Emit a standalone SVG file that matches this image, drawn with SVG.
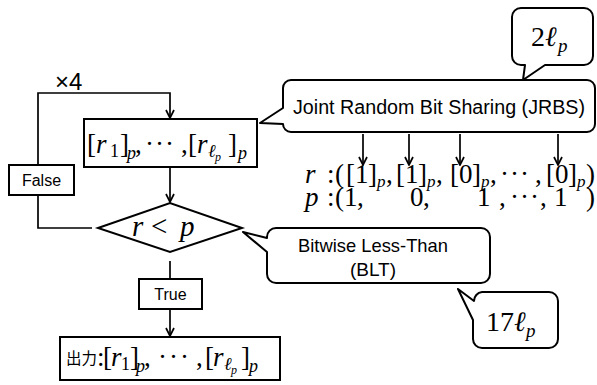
<svg xmlns="http://www.w3.org/2000/svg" width="597" height="385" viewBox="0 0 597 385">
<style>
.box{fill:#fff;stroke:#000;stroke-width:2}
.co{fill:#fff;stroke:#000;stroke-width:2;stroke-linejoin:round}
.ln{fill:none;stroke:#000;stroke-width:1.7}
.t{font-family:"Liberation Sans",Arial,sans-serif;font-size:19px;fill:#000}
.m{font-family:"Liberation Serif","DejaVu Serif",serif;fill:#000}
.i{font-style:italic}
.cjk{font-family:"Noto Sans CJK JP","Noto Sans CJK SC",sans-serif;font-size:15.5px;font-style:normal}
</style>
<defs>
<marker id="ah" viewBox="0 0 10 10" refX="9.5" refY="5" markerWidth="10" markerHeight="10" orient="auto" markerUnits="userSpaceOnUse">
<path d="M1.5,1 L9.5,5 L1.5,9" fill="none" stroke="#000" stroke-width="1.7"/>
</marker>
</defs>

<g id="connectors">
<path class="ln" d="M38,165 V93 H170 V118" marker-end="url(#ah)"/>
<path class="ln" d="M38,195 V228 H92"/>
<path class="ln" d="M170,167 V202" marker-end="url(#ah)"/>
<path class="ln" d="M170,261 V279"/>
<path class="ln" d="M170,309 V336" marker-end="url(#ah)"/>
<path class="ln" d="M363,134 V165" marker-end="url(#ah)"/>
<path class="ln" d="M409,134 V165" marker-end="url(#ah)"/>
<path class="ln" d="M460,134 V165" marker-end="url(#ah)"/>
<path class="ln" d="M558,134 V165" marker-end="url(#ah)"/>
</g>

<g id="loop-label">
<text class="t" x="55" y="90" style="font-size:24px">×4</text>
</g>

<g id="shares">
<rect class="box" x="84" y="119" width="173" height="48"/>
<text class="m" font-size="27"><tspan x="87" y="153">[</tspan><tspan x="96" y="153" class="i">r</tspan><tspan x="110" y="157" font-size="18">1</tspan><tspan x="120" y="153">]</tspan><tspan x="127" y="159" font-size="18" class="i">p</tspan><tspan x="135" y="153">,</tspan><tspan x="145" y="153">·</tspan><tspan x="155" y="153">·</tspan><tspan x="165" y="153">·</tspan><tspan x="181" y="153">,</tspan><tspan x="188" y="153">[</tspan><tspan x="197" y="153" class="i">r</tspan><tspan x="208" y="157" font-size="18" class="i">ℓ</tspan><tspan x="215" y="161" font-size="12" class="i">p</tspan><tspan x="228" y="153">]</tspan><tspan x="238" y="159" font-size="18" class="i">p</tspan></text>
</g>

<g id="false-label">
<rect class="box" x="9" y="165" width="65" height="30"/>
<text class="t" x="41.5" y="186" text-anchor="middle" style="font-size:16px">False</text>
</g>

<g id="decision">
<polygon class="box" points="98,228 170,203 242,228 170,252"/>
<text class="m" font-size="29"><tspan x="132" y="236" class="i">r</tspan><tspan x="151" y="236">&lt;</tspan><tspan x="180" y="236" class="i">p</tspan></text>
</g>

<g id="true-label">
<rect class="box" x="139" y="279" width="63" height="30"/>
<text class="t" x="170.5" y="300" text-anchor="middle" style="font-size:16px">True</text>
</g>

<g id="output">
<rect class="box" x="60" y="337" width="220" height="43"/>
<text class="m" font-size="27"><tspan x="66" y="364" class="cjk">出力</tspan><tspan x="97" y="366">:</tspan><tspan x="103" y="366">[</tspan><tspan x="111" y="366" class="i">r</tspan><tspan x="121" y="370" font-size="18">1</tspan><tspan x="130" y="366">]</tspan><tspan x="136" y="372" font-size="18" class="i">p</tspan><tspan x="144" y="366">,</tspan><tspan x="158" y="366">·</tspan><tspan x="169" y="366">·</tspan><tspan x="180" y="366">·</tspan><tspan x="196" y="366">,</tspan><tspan x="205" y="366">[</tspan><tspan x="213" y="366" class="i">r</tspan><tspan x="224" y="370" font-size="18" class="i">ℓ</tspan><tspan x="231" y="374" font-size="12" class="i">p</tspan><tspan x="241" y="366">]</tspan><tspan x="249" y="372" font-size="18" class="i">p</tspan></text>
</g>

<g id="jrbs">
<path class="co" d="M291,80 H587 A8,8 0 0 1 595,88 V124 A8,8 0 0 1 587,132 H291 A8,8 0 0 1 283,124 L260,123 L283,108 V88 A8,8 0 0 1 291,80 Z"/>
<text class="t" x="293" y="114" style="font-size:20px" textLength="292" lengthAdjust="spacingAndGlyphs">Joint Random Bit Sharing (JRBS)</text>
</g>

<g id="cost-jrbs">
<path class="co" d="M521,8 H584 A9,9 0 0 1 593,17 V56 A9,9 0 0 1 584,65 H545 L523,80 L525,65 H521 A9,9 0 0 1 512,56 V17 A9,9 0 0 1 521,8 Z"/>
<text class="m" font-size="28"><tspan x="531" y="46">2</tspan><tspan x="545" y="46" class="i">ℓ</tspan><tspan x="558" y="52" font-size="19" class="i">p</tspan></text>
</g>

<g id="bits">
<text class="m" font-size="27"><tspan x="305" y="183" class="i">r</tspan><tspan x="327" y="183">:</tspan><tspan x="335" y="183">(</tspan><tspan x="346" y="183">[</tspan><tspan x="355" y="183">1</tspan><tspan x="368" y="183">]</tspan><tspan x="377" y="187" font-size="17" class="i">p</tspan><tspan x="386" y="183">,</tspan><tspan x="396" y="183">[</tspan><tspan x="405" y="183">1</tspan><tspan x="418" y="183">]</tspan><tspan x="427" y="187" font-size="17" class="i">p</tspan><tspan x="436" y="183">,</tspan><tspan x="450" y="183">[</tspan><tspan x="459" y="183">0</tspan><tspan x="472" y="183">]</tspan><tspan x="481" y="187" font-size="17" class="i">p</tspan><tspan x="490" y="183">,</tspan><tspan x="500" y="183">·</tspan><tspan x="510" y="183">·</tspan><tspan x="520" y="183">·</tspan><tspan x="535" y="183">,</tspan><tspan x="546" y="183">[</tspan><tspan x="555" y="183">0</tspan><tspan x="568" y="183">]</tspan><tspan x="577" y="187" font-size="17" class="i">p</tspan><tspan x="586" y="183">)</tspan><tspan x="305" y="206" class="i">p</tspan><tspan x="327" y="206">:</tspan><tspan x="335" y="206">(</tspan><tspan x="344" y="206">1</tspan><tspan x="357" y="206">,</tspan><tspan x="410" y="206">0</tspan><tspan x="423" y="206">,</tspan><tspan x="477" y="206">1</tspan><tspan x="499" y="206">,</tspan><tspan x="510" y="206">·</tspan><tspan x="520" y="206">·</tspan><tspan x="530" y="206">·</tspan><tspan x="540" y="206">,</tspan><tspan x="554" y="206">1</tspan><tspan x="586" y="206">)</tspan></text>
</g>

<g id="blt">
<path class="co" d="M276,228 H481 A9,9 0 0 1 490,237 V274 A9,9 0 0 1 481,283 H276 A9,9 0 0 1 267,274 V252 L243,232 L267,238 V237 A9,9 0 0 1 276,228 Z"/>
<text class="t" text-anchor="middle"><tspan x="373" y="252" textLength="150" lengthAdjust="spacingAndGlyphs">Bitwise Less-Than</tspan><tspan x="373" y="276">(BLT)</tspan></text>
</g>

<g id="cost-blt">
<path class="co" d="M482,292 H549 A9,9 0 0 1 558,301 V339 A9,9 0 0 1 549,348 H482 A9,9 0 0 1 473,339 V320 L458,289 L474,301 A9,9 0 0 1 482,292 Z"/>
<text class="m" font-size="28"><tspan x="486" y="331">17</tspan><tspan x="514" y="331" class="i">ℓ</tspan><tspan x="526" y="337" font-size="19" class="i">p</tspan></text>
</g>
</svg>
